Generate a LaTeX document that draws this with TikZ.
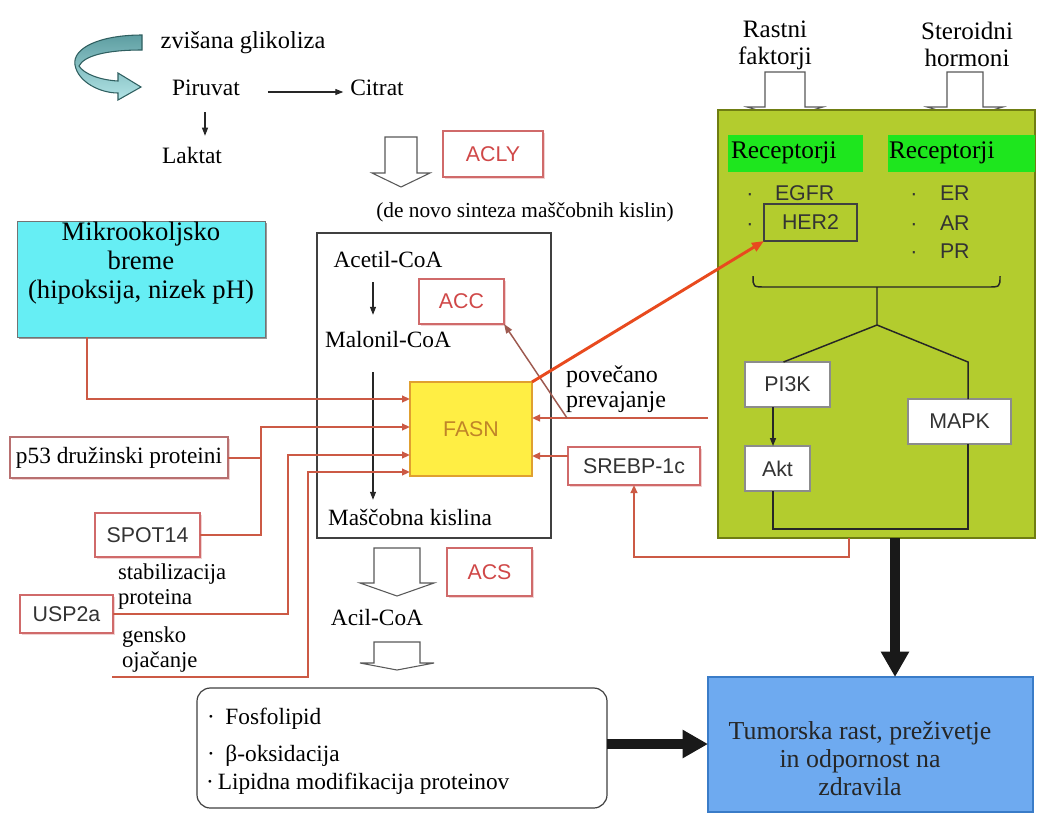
\documentclass[tikz,border=0pt]{standalone}
\usepackage{fontspec}
\setmainfont{Liberation Serif}
\setsansfont{Liberation Sans}
\usetikzlibrary{arrows.meta,fit,shadows,calc}

\definecolor{connred}{HTML}{CC5A45}
\definecolor{boxred}{HTML}{D06A6A}
\definecolor{labred}{HTML}{D04848}
\definecolor{labgray}{HTML}{333333}
\definecolor{herred}{HTML}{E84A1E}
\definecolor{accline}{HTML}{9E5A50}
\definecolor{lime}{HTML}{B3CC2E}
\definecolor{limeedge}{HTML}{6F7D12}
\definecolor{recgreen}{HTML}{1EE61E}
\definecolor{skyblue}{HTML}{6EAAF0}
\definecolor{blueedge}{HTML}{3A7CC8}
\definecolor{cyanbox}{HTML}{66EEF4}
\definecolor{fasnfill}{HTML}{FFEE44}
\definecolor{fasnedge}{HTML}{E0A030}
\definecolor{fasntext}{HTML}{C08428}
\definecolor{tealA}{HTML}{5E9EA2}
\definecolor{tealB}{HTML}{B2E4E6}
\definecolor{tealedge}{HTML}{2F5F60}

\newcommand\fsz[2]{\fontsize{#1}{#2}\selectfont}

\tikzset{
  pics/hollow/.style n args={4}{code={
    \path[hollowline] (-#1,0) -- (#1,0) -- (#1,#2) -- (#3,#2) -- (0,#2+#4)
      -- (-#3,#2) -- (-#1,#2) -- cycle;}},
}

\begin{document}
\begin{tikzpicture}[x=0.75pt,y=-0.75pt,
  every node/.style={inner sep=0pt,outer sep=0pt},
  serif/.style={font=\fsz{17.5}{21}},
  sanslab/.style={font=\sffamily\fsz{16}{19},text=labgray},
  redlab/.style={font=\sffamily\fsz{16}{19},text=labred},
  redbox/.style={draw=boxred,line width=0.9pt,fill=white,
    drop shadow={shadow xshift=1.3pt,shadow yshift=-1.3pt,fill=boxred!30,opacity=1}},
  whitebox/.style={draw=black!45,line width=0.8pt,fill=white},
  conn/.style={draw=connred,line width=1.5pt},
  arr/.style={-{Triangle[length=6pt,width=5pt]}},
  thinarr/.style={draw=black!85,line width=0.8pt,-{Triangle[length=6pt,width=4.5pt]}},
  hollowline/.style={draw=black!65,fill=white,line width=0.8pt,line join=miter},
  heavy/.style={draw=black!90,line width=7.5pt,-{Triangle[length=19pt,width=20pt]}},
  gline/.style={draw=black!85,line width=1.1pt},
]
\fill[white] (0,0) rectangle (1037,815);
\useasboundingbox (0,0) rectangle (1037,815);

% ---------- glycolysis ----------
\shade[top color=tealA,bottom color=tealB,draw=tealedge,line width=0.8pt]
  (142,35) .. controls (100,35) and (72,48) .. (75,65)
  .. controls (78,82) and (100,93) .. (118,93) -- (118,100) -- (141,87)
  -- (118,73) -- (118,81) .. controls (100,80) and (84,74) .. (79,66)
  .. controls (84,56) and (105,50) .. (142,50) -- cycle;
\node[font=\fsz{18.3}{22},anchor=base] (glik) at (243,48) {zvišana glikoliza};
\node[font=\fsz{17.6}{21},anchor=base] (piruvat) at (206,95) {Piruvat};
\node[font=\fsz{17.6}{21},anchor=base] (citrat) at (377,95) {Citrat};
\node[font=\fsz{17.6}{21},anchor=base] (laktat) at (192,163) {Laktat};
\draw[thinarr] ($(piruvat.base east)+(28,-3)$) -- ($(citrat.base west)+(-7,-3)$);
\coordinate (lx) at (205,120);
\draw[thinarr] ($(piruvat.south -| lx)+(0,17)$) -- ($(laktat.north -| lx)+(0,-11)$);

% ---------- ACLY ----------
\pic at (401,137) {hollow={16}{36}{29}{14}};
\node[redbox,fit={(443,131)(543,177)},label={[redlab]center:ACLY}] (acly) {};
\node[font=\fsz{16}{19},anchor=base] (denovo) at (525,217) {(de novo sinteza maščobnih kislin)};

% ---------- de novo synthesis box ----------
\node[draw=black!75,line width=0.9pt,fit={(317,233)(551,538)}] (mainbox) {};
\node[serif,anchor=base] (acetil) at (388,267) {Acetil-CoA};
\node[serif,anchor=base] (malonil) at (388,347) {Malonil-CoA};
\node[serif,anchor=base] (masc) at (410,525) {Maščobna kislina};
\node[redbox,fit={(419,279)(504,324)},label={[redlab]center:ACC}] (acc) {};
\coordinate (ax) at (373,300);
\draw[thinarr] ($(acetil.south -| ax)+(0,15)$) -- ($(malonil.north -| ax)+(0,-16)$);
\draw[thinarr] ($(malonil.south -| ax)+(0,25)$) -- ($(masc.north -| ax)+(0,-9)$);
\node[fill=fasnfill,draw=fasnedge,line width=1.2pt,fit={(410,382)(532,476)},
      label={[font=\sffamily\fsz{16}{19},text=fasntext]center:FASN}] (fasn) {};

% ---------- left regulators ----------
\node[fill=cyanbox,draw=black!55,line width=0.6pt,fit={(17,221)(265,337)},
      drop shadow={shadow xshift=1.5pt,shadow yshift=-1.5pt,fill=black!40,opacity=1}] (mikro) {};
\node[font=\fsz{20}{21.75},align=center] (mikrot) at (141,263)
  {Mikrookoljsko\\breme\\(hipoksija, nizek pH)};
\node[redbox,draw=boxred!70!gray,fit={(10,437)(228,478)},
      label={[font=\fsz{17.5}{21}]center:p53 družinski proteini}] (p53) {};
\node[redbox,fit={(95,513)(200,557)},label={[sanslab]center:SPOT14}] (spot) {};
\node[redbox,fit={(20,595)(113,633)},label={[sanslab]center:USP2a}] (usp) {};
\node[font=\fsz{17}{18.75},align=left,anchor=west] (stab) at (118,587) {stabilizacija\\proteina};
\node[font=\fsz{17}{18.75},align=left,anchor=west] (gens) at (122,650) {gensko\\ojačanje};

\coordinate (r1) at (300,399);
\draw[conn,arr] ($(mikro.south west)+(70,0)$) |- (fasn.west |- r1);
\coordinate (j1) at (261,427);
\draw[conn,arr] (spot.east) -| (j1) -- (fasn.west |- j1);
\draw[conn] (p53.east) -- (p53.east -| j1);
\coordinate (j2) at (288,455);
\draw[conn,arr] (usp.east) -| (j2) -- (fasn.west |- j2);
\coordinate (gs) at (112,677);
\coordinate (j3) at (308,472);
\draw[conn,arr] (gs) -| (j3) -- (fasn.west |- j3);

% ---------- signalling block ----------
\pic at (785,72) {hollow={20}{35}{38}{11}};
\pic at (965,72) {hollow={18}{35}{38}{11}};
\node[font=\fsz{18.8}{20.25},align=center] (rastni) at (775,45) {Rastni\\faktorji};
\node[font=\fsz{18.8}{20.25},align=center] (steroid) at (967,44) {Steroidni\\hormoni};
\node[fill=lime,draw=limeedge,line width=1pt,fit={(718,110)(1035,538)}] (green) {};
\node[fill=recgreen,fit={(728,135)(863,172)}] (rec1) {};
\node[fill=recgreen,fit={(888,135)(1035,172)}] (rec2) {};
\node[font=\fsz{19}{22},anchor=base west] (rec1t) at (731,158) {Receptorji};
\node[font=\fsz{19}{22},anchor=base west] (rec2t) at (889,158) {Receptorji};
\node[sanslab,anchor=base] (b1) at (750,200) {·};
\node[sanslab,anchor=base west] (egfr) at (775,200) {EGFR};
\node[sanslab,anchor=base] (b2) at (750,230) {·};
\node[draw=black!75,line width=0.9pt,fit={(764,204)(857,241)},label={[sanslab]center:HER2}] (her2) {};
\node[sanslab,anchor=base] (b3) at (914,200) {·};
\node[sanslab,anchor=base west] (er) at (940,200) {ER};
\node[sanslab,anchor=base] (b4) at (914,230) {·};
\node[sanslab,anchor=base west] (ar) at (940,230) {AR};
\node[sanslab,anchor=base] (b5) at (914,258) {·};
\node[sanslab,anchor=base west] (pr) at (940,258) {PR};

\draw[gline] (753,276) .. controls (753,287) .. (766,287) -- (987,287)
  .. controls (1000,287) .. (1000,276);
\node[whitebox,fit={(745,362)(830,407)},label={[sanslab]center:PI3K}] (pi3k) {};
\node[whitebox,fit={(745,446)(810,491)},label={[sanslab]center:Akt}] (akt) {};
\node[whitebox,fit={(908,399)(1011,444)},label={[sanslab]center:MAPK}] (mapk) {};
\coordinate (br0) at (877,287);
\coordinate (br) at (877,325);
\coordinate (mk) at (968,362);
\coordinate (ak) at (773,529);
\draw[gline] (br0) -- (br) -- ($(pi3k.north)+(-4,0)$);
\draw[gline] (br) -- (mk) -- (mapk.north -| mk);
\draw[gline,-{Triangle[length=6pt,width=4.5pt]}] (pi3k.south -| ak) -- (akt.north -| ak);
\draw[gline] (akt.south -| ak) -- (ak) -| (mapk.south -| mk);

% ---------- links to FASN from the right ----------
\node[redbox,fit={(568,447)(700,485)},label={[sanslab]center:SREBP-1c}] (srebp) {};
\node[font=\fsz{18}{18.75},align=left,anchor=west] (povec) at (566,389) {povečano\\prevajanje};
\coordinate (gl) at (708,418);
\draw[conn,arr] (gl) -- (fasn.east |- gl);
\coordinate (accs) at (567,418);
\draw[draw=accline,line width=1.1pt,-{Triangle[length=7pt,width=5pt]}] (accs) -- (acc.south east);
\draw[draw=herred,line width=2.2pt,-{Triangle[length=9pt,width=7pt]}] (fasn.north east) -- (her2.south west);
\coordinate (sr) at (600,456);
\draw[conn,arr] (srebp.west |- sr) -- (fasn.east |- sr);
\coordinate (gs2) at (849,557);
\draw[conn,arr] (green.south -| gs2) -- (gs2) -| (srebp.south);

% ---------- products ----------
\pic at (397,548) {hollow={23}{35}{37}{13}};
\node[redbox,fit={(447,548)(532,596)},label={[redlab]center:ACS}] (acs) {};
\node[serif,anchor=base] (acil) at (377,625) {Acil-CoA};
\pic at (397,642) {hollow={23}{21}{37}{7}};
\node[draw=black!75,line width=0.9pt,rounded corners=10pt,fill=white,fit={(197,688)(607,808)}] (lipid) {};
\node[serif,anchor=base west] (fos) at (207,724) {·\hspace{8pt}Fosfolipid};
\node[serif,anchor=base west] (beta) at (207,761) {·\hspace{8pt}β-oksidacija};
\node[serif,anchor=base west] (lmod) at (206,789) {·\hspace{3pt}Lipidna modifikacija proteinov};

% ---------- outcome ----------
\node[fill=skyblue,draw=blueedge,line width=1pt,fit={(708,677)(1033,812)}] (tumor) {};
\node[font=\fsz{19.4}{21},align=center,text=black!85] (tumort) at (860,759)
  {Tumorska rast, preživetje\\in odpornost na\\zdravila};
\coordinate (tx) at (895,600);
\draw[heavy] (green.south -| tx) -- (tumor.north -| tx);
\coordinate (hy) at (650,744);
\draw[heavy] (lipid.east |- hy) -- (tumor.west |- hy);
\end{tikzpicture}
\end{document}
